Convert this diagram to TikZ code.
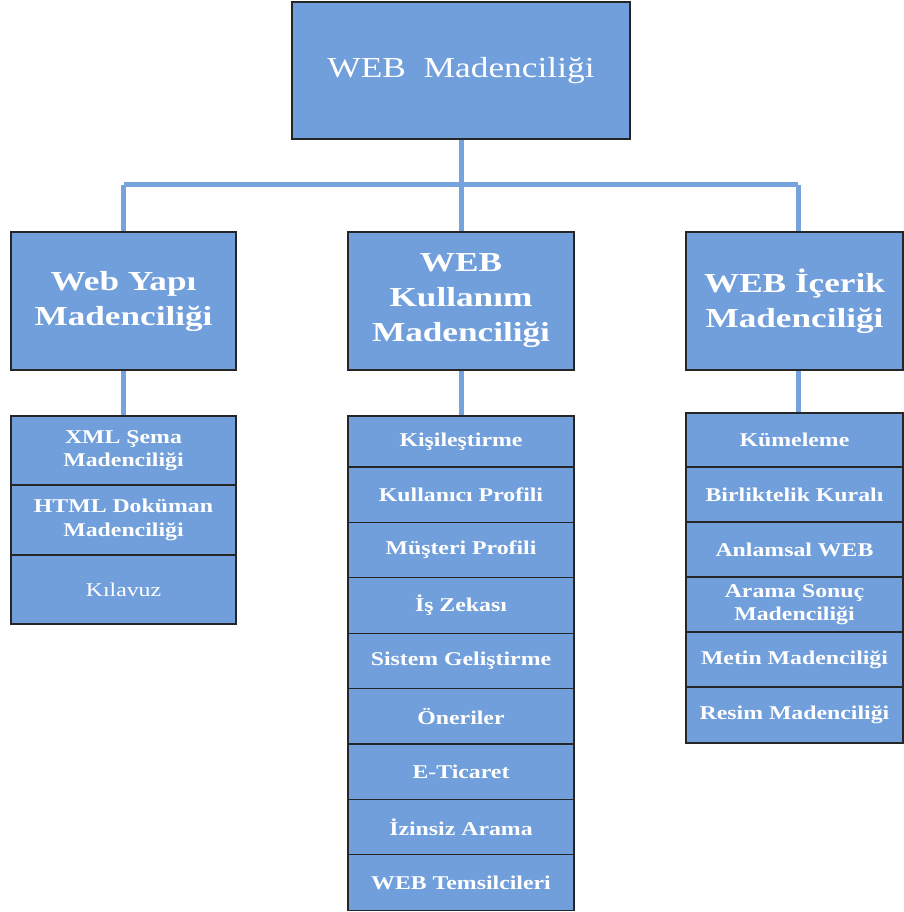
\documentclass[tikz,border=0pt]{standalone}
\usepackage{fontspec}
\setmainfont{Liberation Serif}
\newfontfamily\wfont[FakeStretch=1.22]{Liberation Serif}
\newfontfamily\hfont[FakeStretch=1.28]{Liberation Serif}
\begin{document}
\begin{tikzpicture}[x=1pt,y=-1pt,
  box/.style={draw=black!85,line width=1.1pt,fill=boxblue,text=white,align=center,inner sep=0pt},
  conn/.style={draw=lineblue,line width=5pt},
  item/.style={font=\wfont\fontsize{19.5}{23.5}\selectfont\bfseries},
  head/.style={font=\hfont\fontsize{27.5}{35}\selectfont\bfseries}]
\definecolor{boxblue}{RGB}{113,159,219}
\definecolor{lineblue}{RGB}{118,163,222}
\useasboundingbox (0,0) rectangle (903,912);
% top
\node[box,minimum width=338pt,minimum height=137pt,font=\wfont\fontsize{29}{34}\selectfont] (top) at (461,70.5) {\raisebox{-2pt}{WEB\ \ Madenciliği}};
% second level
\node[box,head,minimum width=225pt,minimum height=138pt] (yapi) at (123.5,301) {Web Yapı\\Madenciliği};
\node[box,head,minimum width=226pt,minimum height=138pt] (kul) at (461,301) {WEB\\Kullanım\\Madenciliği};
\node[box,head,minimum width=217pt,minimum height=138pt] (icerik) at (794.5,301) {WEB İçerik\\Madenciliği};
% connectors
\coordinate (j) at (461,185);
\coordinate (jl) at (123.5,185);
\coordinate (jr) at (798,185);
\draw[conn] (top.south) -- (j);
\draw[conn] (jl) -- (jr);
\draw[conn] (jl) -- (jl |- yapi.north);
\draw[conn] (j) -- (kul.north);
\draw[conn] (jr) -- (jr |- icerik.north);
% left list
\node[box,item,minimum width=225pt,minimum height=69pt] (l1) at (123.5,450.5) {XML Şema\\Madenciliği};
\node[box,item,minimum width=225pt,minimum height=70pt] (l2) at (123.5,520) {HTML Doküman\\Madenciliği};
\node[box,minimum width=225pt,minimum height=69pt,font=\wfont\fontsize{19.5}{22}\selectfont] (l3) at (123.5,589.5) {Kılavuz};
\draw[conn] (yapi.south) -- (l1.north);
% center list
\node[box,item,minimum width=226pt,minimum height=51pt] (c1) at (461,441.5) {\raisebox{-2pt}{Kişileştirme}};
\foreach \n/\t [count=\i from 0] in {c2/Kullanıcı Profili,c3/Müşteri Profili,c4/İş Zekası,c5/Sistem Geliştirme,c6/Öneriler,c7/E-Ticaret,c8/İzinsiz Arama,c9/WEB Temsilcileri}
  \node[box,item,minimum width=226pt,minimum height=55.4pt] (\n) at (461,494.7+55.4*\i) {\t};
\draw[conn] (kul.south) -- (c1.north);
% right list
\node[box,item,minimum width=217pt,minimum height=54pt] (r1) at (794.5,440) {Kümeleme};
\node[box,item,minimum width=217pt,minimum height=55pt] (r2) at (794.5,494.5) {Birliktelik Kuralı};
\node[box,item,minimum width=217pt,minimum height=55pt] (r3) at (794.5,549.5) {Anlamsal WEB};
\node[box,item,minimum width=217pt,minimum height=55pt] (r4) at (794.5,604.5) {Arama Sonuç\\Madenciliği};
\node[box,item,minimum width=217pt,minimum height=55pt] (r5) at (794.5,659.5) {Metin Madenciliği};
\node[box,item,minimum width=217pt,minimum height=56pt] (r6) at (794.5,715) {Resim Madenciliği};
\draw[conn] (jr |- icerik.south) -- (jr |- r1.north);
\end{tikzpicture}
\end{document}
